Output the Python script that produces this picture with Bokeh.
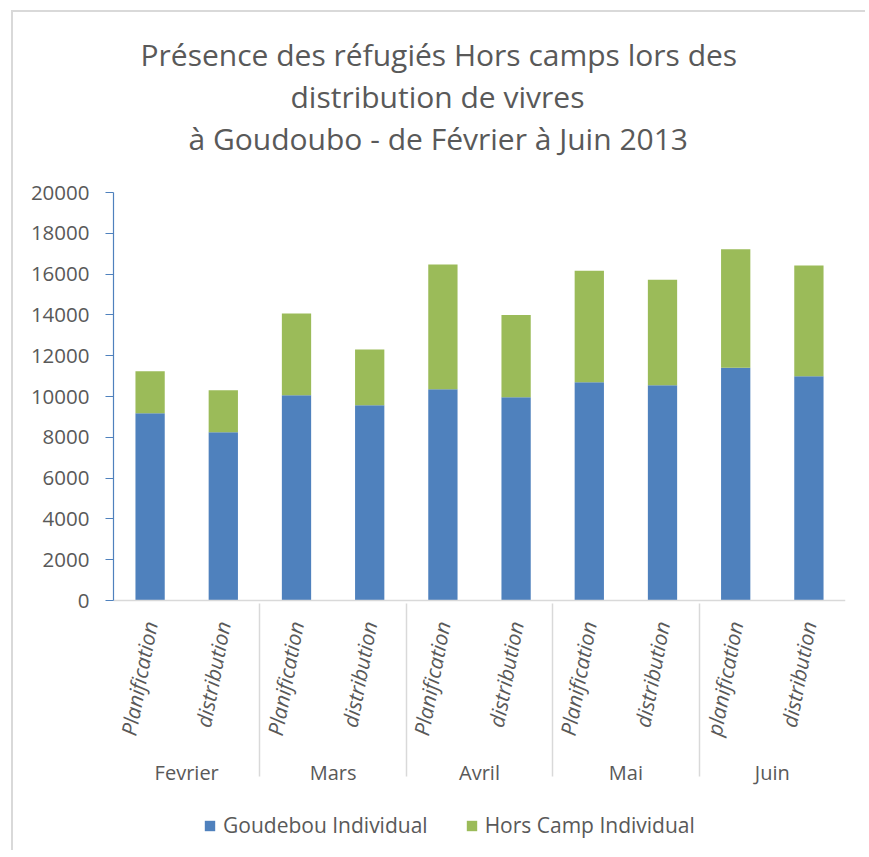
from bokeh.plotting import figure
from bokeh.models import ColumnDataSource, FactorRange, Range1d, FixedTicker, Legend, LegendItem, Title
from bokeh.embed import file_html
from bokeh.resources import INLINE

# ---- data ----
months = ["Fevrier", "Mars", "Avril", "Mai", "Juin"]
stages = [
    ["Planification", "distribution"],
    ["Planification", "distribution"],
    ["Planification", "distribution"],
    ["Planification", "distribution"],
    ["planification", "distribution"],
]
goudebou_individual = [9180, 8250, 10065, 9575, 10360, 9965, 10700, 10555, 11405, 10995]
hors_camp_individual = [2060, 2060, 4005, 2725, 6110, 4035, 5460, 5165, 5815, 5425]
series_labels = ["Goudebou Individual", "Hors Camp Individual"]
y_ticks = [0, 2000, 4000, 6000, 8000, 10000, 12000, 14000, 16000, 18000, 20000]
title_lines = ["Présence des réfugiés Hors camps lors des",
               "distribution de vivres",
               "à Goudoubo - de Février à Juin 2013"]

# ---- styling / layout ----
FONT = "Open Sans"
TEXT = "#595959"
BLUE = "#4F81BD"
GREEN = "#9BBB59"
GRID = "#d9d9d9"
Y_MAX = 20000
PLOT_PX = 408          # pixel height of the 0..Y_MAX value area
FRAME_PX = 658         # frame also holds the category labels and legend
y_min = -Y_MAX * (FRAME_PX - PLOT_PX) / PLOT_PX

factors = [(m, s) for m, pair in zip(months, stages) for s in pair]
source = ColumnDataSource(dict(x=factors, goud=goudebou_individual, hors=hors_camp_individual))

p = figure(
    x_range=FactorRange(*factors, group_padding=0, factor_padding=0, subgroup_padding=0, range_padding=0),
    y_range=Range1d(y_min, Y_MAX),
    frame_width=732, frame_height=FRAME_PX,
    min_border_left=100, min_border_top=180, min_border_right=20, min_border_bottom=0,
    output_backend="svg", toolbar_location=None,
    margin=(10, 0, 0, 11),
    styles={"border-left": "2px solid #d9d9d9", "border-top": "2px solid #d9d9d9"},
)

rs = p.vbar_stack(["goud", "hors"], x="x", width=0.4, source=source,
                  color=[BLUE, GREEN], line_color=None)

p.outline_line_color = None
p.xgrid.grid_line_color = None
p.ygrid.grid_line_color = None

# title: one Title per line, added from the frame outward (spacer first)
p.title.visible = False
p.add_layout(Title(text=" ", text_font_size="1px", standoff=31), "above")
line_offsets = [27, 177, 75]
for line, off in reversed(list(zip(title_lines, line_offsets))):
    t = Title(text=line, align="left", offset=off, standoff=-1.5,
              text_font=FONT, text_font_size="30px", text_font_style="normal",
              text_color=TEXT)
    p.add_layout(t, "above")

# y axis (only spans 0..Y_MAX)
ya = p.yaxis[0]
ya.bounds = (0, Y_MAX)
ya.ticker = FixedTicker(ticks=y_ticks)
ya.axis_line_color = BLUE
ya.axis_line_width = 1.2
ya.major_tick_line_color = BLUE
ya.major_tick_line_width = 1.2
ya.major_tick_out = 8
ya.major_tick_in = 0
ya.minor_tick_line_color = None
ya.major_label_standoff = 16
ya.major_label_text_font = FONT
ya.major_label_text_font_size = "20.5px"
ya.major_label_text_color = TEXT

# x axis, drawn at y = 0
xa = p.xaxis[0]
xa.fixed_location = 0
xa.axis_line_color = GRID
xa.axis_line_width = 1.5
xa.major_tick_line_color = None
xa.minor_tick_line_color = None
xa.major_label_orientation = 1.38
xa.major_label_standoff = 15
xa.major_label_text_font = FONT
xa.major_label_text_font_size = "21px"
xa.major_label_text_font_style = "italic"
xa.major_label_text_color = TEXT
xa.group_text_font = FONT
xa.group_text_font_size = "20px"
xa.group_text_font_style = "normal"
xa.group_text_color = TEXT
xa.group_label_orientation = "horizontal"
xa.separator_line_color = GRID
xa.separator_line_width = 1.5

legend = Legend(
    items=[LegendItem(label=series_labels[0], renderers=[rs[0]]),
           LegendItem(label=series_labels[1], renderers=[rs[1]])],
    orientation="horizontal", location=(90, 11),
    glyph_width=13, glyph_height=13, label_standoff=7, spacing=37,
    padding=0, margin=0, label_height=13,
    border_line_color=None, background_fill_alpha=0,
    label_text_font=FONT, label_text_font_size="21px", label_text_color=TEXT,
)
p.add_layout(legend, "center")

open("out.html", "w").write(file_html(p, INLINE))
